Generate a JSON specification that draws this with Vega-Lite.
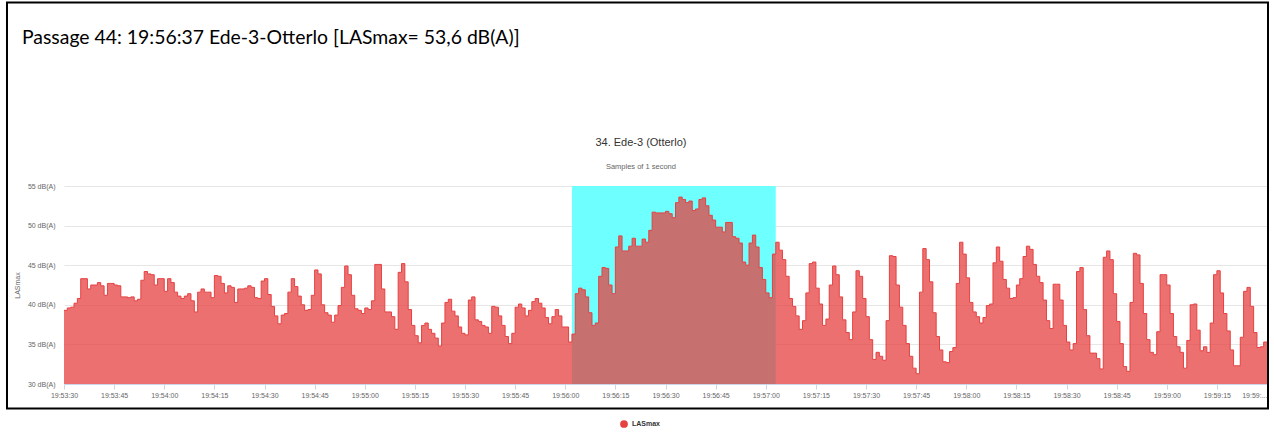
{
  "$schema": "https://vega.github.io/schema/vega-lite/v6.json",
  "width": 1203,
  "height": 198,
  "autosize": {"type": "none"},
  "padding": {"left": 64, "top": 186, "right": 7, "bottom": 50},
  "background": "white",
  "config": {
    "view": {"stroke": null},
    "font": "Liberation Sans",
    "axisY": {"tickCount": 6, "labelOverlap": false}
  },
  "data": {"values": [
    {"s":0,"v":39.3},{"s":1,"v":39.6},{"s":2,"v":39.7},{"s":3,"v":40.2},{"s":4,"v":40.8},{"s":5,"v":43.3},{"s":6,"v":43.3},{"s":7,"v":42.0},{"s":8,"v":42.5},{"s":9,"v":42.5},
    {"s":10,"v":42.8},{"s":11,"v":42.4},{"s":12,"v":41.2},{"s":13,"v":42.7},{"s":14,"v":42.7},{"s":15,"v":42.5},{"s":16,"v":42.4},{"s":17,"v":41.0},{"s":18,"v":41.0},{"s":19,"v":40.9},
    {"s":20,"v":41.0},{"s":21,"v":40.5},{"s":22,"v":40.7},{"s":23,"v":43.1},{"s":24,"v":44.2},{"s":25,"v":43.9},{"s":26,"v":43.8},{"s":27,"v":42.5},{"s":28,"v":43.3},{"s":29,"v":43.3},
    {"s":30,"v":41.7},{"s":31,"v":43.3},{"s":32,"v":42.8},{"s":33,"v":41.6},{"s":34,"v":41.1},{"s":35,"v":40.8},{"s":36,"v":41.1},{"s":37,"v":41.4},{"s":38,"v":40.5},{"s":39,"v":39.1},
    {"s":40,"v":41.6},{"s":41,"v":42.0},{"s":42,"v":41.6},{"s":43,"v":41.6},{"s":44,"v":40.9},{"s":45,"v":43.7},{"s":46,"v":43.6},{"s":47,"v":42.7},{"s":48,"v":41.5},{"s":49,"v":42.4},
    {"s":50,"v":42.2},{"s":51,"v":40.3},{"s":52,"v":42.0},{"s":53,"v":42.0},{"s":54,"v":42.1},{"s":55,"v":42.4},{"s":56,"v":42.2},{"s":57,"v":40.9},{"s":58,"v":40.8},{"s":59,"v":43.0},
    {"s":60,"v":43.3},{"s":61,"v":41.3},{"s":62,"v":39.8},{"s":63,"v":38.6},{"s":64,"v":37.6},{"s":65,"v":38.7},{"s":66,"v":38.9},{"s":67,"v":41.6},{"s":68,"v":43.3},{"s":69,"v":42.3},
    {"s":70,"v":41.1},{"s":71,"v":40.0},{"s":72,"v":39.3},{"s":73,"v":39.4},{"s":74,"v":41.2},{"s":75,"v":44.4},{"s":76,"v":43.9},{"s":77,"v":40.0},{"s":78,"v":39.0},{"s":79,"v":38.7},
    {"s":80,"v":37.8},{"s":81,"v":38.7},{"s":82,"v":39.9},{"s":83,"v":42.2},{"s":84,"v":44.9},{"s":85,"v":43.8},{"s":86,"v":41.2},{"s":87,"v":39.5},{"s":88,"v":39.3},{"s":89,"v":38.9},
    {"s":90,"v":39.6},{"s":91,"v":39.4},{"s":92,"v":40.5},{"s":93,"v":45.1},{"s":94,"v":45.1},{"s":95,"v":42.0},{"s":96,"v":39.1},{"s":97,"v":39.1},{"s":98,"v":38.5},{"s":99,"v":36.9},
    {"s":100,"v":44.1},{"s":101,"v":45.2},{"s":102,"v":42.9},{"s":103,"v":39.4},{"s":104,"v":37.4},{"s":105,"v":36.1},{"s":106,"v":35.2},{"s":107,"v":37.4},{"s":108,"v":37.7},{"s":109,"v":36.9},
    {"s":110,"v":36.4},{"s":111,"v":35.8},{"s":112,"v":34.8},{"s":113,"v":37.7},{"s":114,"v":40.3},{"s":115,"v":40.7},{"s":116,"v":39.2},{"s":117,"v":38.6},{"s":118,"v":37.2},{"s":119,"v":36.4},
    {"s":120,"v":36.2},{"s":121,"v":40.6},{"s":122,"v":41.0},{"s":123,"v":38.1},{"s":124,"v":37.9},{"s":125,"v":37.4},{"s":126,"v":37.2},{"s":127,"v":36.4},{"s":128,"v":39.8},{"s":129,"v":39.7},
    {"s":130,"v":38.6},{"s":131,"v":37.4},{"s":132,"v":36.0},{"s":133,"v":35.1},{"s":134,"v":36.4},{"s":135,"v":39.7},{"s":136,"v":40.1},{"s":137,"v":39.6},{"s":138,"v":38.6},{"s":139,"v":39.3},
    {"s":140,"v":40.4},{"s":141,"v":40.8},{"s":142,"v":40.2},{"s":143,"v":39.6},{"s":144,"v":38.4},{"s":145,"v":37.6},{"s":146,"v":38.5},{"s":147,"v":39.4},{"s":148,"v":38.6},{"s":149,"v":37.2},
    {"s":150,"v":37.2},{"s":151,"v":35.3},{"s":152,"v":36.3},{"s":153,"v":41.4},{"s":154,"v":42.1},{"s":155,"v":41.9},{"s":156,"v":41.0},{"s":157,"v":39.0},{"s":158,"v":37.4},{"s":159,"v":37.7},
    {"s":160,"v":43.6},{"s":161,"v":44.7},{"s":162,"v":44.6},{"s":163,"v":42.5},{"s":164,"v":41.4},{"s":165,"v":47.3},{"s":166,"v":48.7},{"s":167,"v":46.8},{"s":168,"v":46.8},{"s":169,"v":47.4},
    {"s":170,"v":48.4},{"s":171,"v":47.4},{"s":172,"v":47.4},{"s":173,"v":48.3},{"s":174,"v":47.9},{"s":175,"v":49.4},{"s":176,"v":51.7},{"s":177,"v":51.6},{"s":178,"v":51.6},{"s":179,"v":51.6},
    {"s":180,"v":51.8},{"s":181,"v":51.5},{"s":182,"v":51.0},{"s":183,"v":52.9},{"s":184,"v":53.6},{"s":185,"v":53.3},{"s":186,"v":52.9},{"s":187,"v":53.1},{"s":188,"v":51.9},{"s":189,"v":52.1},
    {"s":190,"v":53.3},{"s":191,"v":53.5},{"s":192,"v":52.5},{"s":193,"v":51.3},{"s":194,"v":50.7},{"s":195,"v":49.8},{"s":196,"v":49.8},{"s":197,"v":49.2},{"s":198,"v":50.4},{"s":199,"v":50.4},
    {"s":200,"v":48.6},{"s":201,"v":48.4},{"s":202,"v":47.8},{"s":203,"v":45.4},{"s":204,"v":45.0},{"s":205,"v":47.8},{"s":206,"v":48.8},{"s":207,"v":47.3},{"s":208,"v":44.7},{"s":209,"v":43.2},
    {"s":210,"v":41.5},{"s":211,"v":40.9},{"s":212,"v":46.4},{"s":213,"v":47.9},{"s":214,"v":46.9},{"s":215,"v":45.7},{"s":216,"v":43.6},{"s":217,"v":40.8},{"s":218,"v":39.8},{"s":219,"v":38.6},
    {"s":220,"v":36.9},{"s":221,"v":38.0},{"s":222,"v":41.5},{"s":223,"v":45.2},{"s":224,"v":45.4},{"s":225,"v":42.1},{"s":226,"v":40.1},{"s":227,"v":37.4},{"s":228,"v":38.2},{"s":229,"v":42.5},
    {"s":230,"v":44.9},{"s":231,"v":43.8},{"s":232,"v":41.0},{"s":233,"v":38.1},{"s":234,"v":36.5},{"s":235,"v":35.6},{"s":236,"v":39.1},{"s":237,"v":44.3},{"s":238,"v":43.6},{"s":239,"v":40.8},
    {"s":240,"v":38.5},{"s":241,"v":35.6},{"s":242,"v":33.1},{"s":243,"v":34.0},{"s":244,"v":33.5},{"s":245,"v":33.0},{"s":246,"v":38.0},{"s":247,"v":46.2},{"s":248,"v":46.1},{"s":249,"v":42.5},
    {"s":250,"v":39.7},{"s":251,"v":37.4},{"s":252,"v":35.1},{"s":253,"v":33.5},{"s":254,"v":32.0},{"s":255,"v":31.3},{"s":256,"v":41.6},{"s":257,"v":47.1},{"s":258,"v":45.7},{"s":259,"v":42.9},
    {"s":260,"v":39.0},{"s":261,"v":36.0},{"s":262,"v":34.3},{"s":263,"v":32.8},{"s":264,"v":32.7},{"s":265,"v":34.1},{"s":266,"v":34.6},{"s":267,"v":42.7},{"s":268,"v":47.9},{"s":269,"v":46.4},
    {"s":270,"v":43.4},{"s":271,"v":40.3},{"s":272,"v":39.1},{"s":273,"v":38.5},{"s":274,"v":37.7},{"s":275,"v":38.4},{"s":276,"v":39.9},{"s":277,"v":40.1},{"s":278,"v":45.3},{"s":279,"v":47.3},
    {"s":280,"v":45.5},{"s":281,"v":43.2},{"s":282,"v":42.1},{"s":283,"v":40.8},{"s":284,"v":40.9},{"s":285,"v":42.5},{"s":286,"v":43.3},{"s":287,"v":46.1},{"s":288,"v":47.4},{"s":289,"v":47.0},
    {"s":290,"v":45.1},{"s":291,"v":43.6},{"s":292,"v":42.8},{"s":293,"v":40.6},{"s":294,"v":38.0},{"s":295,"v":37.0},{"s":296,"v":42.6},{"s":297,"v":42.6},{"s":298,"v":40.6},{"s":299,"v":37.4},
    {"s":300,"v":35.3},{"s":301,"v":34.3},{"s":302,"v":35.1},{"s":303,"v":44.2},{"s":304,"v":44.7},{"s":305,"v":39.4},{"s":306,"v":36.1},{"s":307,"v":33.9},{"s":308,"v":33.9},{"s":309,"v":33.2},
    {"s":310,"v":31.9},{"s":311,"v":46.0},{"s":312,"v":46.8},{"s":313,"v":45.7},{"s":314,"v":41.4},{"s":315,"v":37.9},{"s":316,"v":35.1},{"s":317,"v":32.2},{"s":318,"v":31.6},{"s":319,"v":40.3},
    {"s":320,"v":46.5},{"s":321,"v":46.3},{"s":322,"v":42.7},{"s":323,"v":38.9},{"s":324,"v":35.6},{"s":325,"v":34.0},{"s":326,"v":33.7},{"s":327,"v":36.6},{"s":328,"v":43.8},{"s":329,"v":43.8},
    {"s":330,"v":42.5},{"s":331,"v":38.9},{"s":332,"v":36.0},{"s":333,"v":34.7},{"s":334,"v":34.0},{"s":335,"v":32.0},{"s":336,"v":35.5},{"s":337,"v":40.0},{"s":338,"v":40.1},{"s":339,"v":36.8},
    {"s":340,"v":34.2},{"s":341,"v":34.7},{"s":342,"v":34.0},{"s":343,"v":37.7},{"s":344,"v":43.8},{"s":345,"v":44.3},{"s":346,"v":41.5},{"s":347,"v":38.9},{"s":348,"v":36.7},{"s":349,"v":34.3},
    {"s":350,"v":32.3},{"s":351,"v":32.3},{"s":352,"v":35.9},{"s":353,"v":41.7},{"s":354,"v":42.2},{"s":355,"v":39.8},{"s":356,"v":36.5},{"s":357,"v":34.6},{"s":358,"v":34.7},{"s":359,"v":35.3},
    {"s":360,"v":35.3}
  ]},
  "layer": [
    {
      "data": {"values": [{"left": -17.06, "right": 360.3, "top": 78.17, "bottom": 26.91}]},
      "mark": {"type": "rect", "fillOpacity": 0, "stroke": "#000000", "strokeWidth": 2},
      "encoding": {
        "x": {"field": "left", "type": "quantitative"},
        "x2": {"field": "right"},
        "y": {"field": "top", "type": "quantitative", "axis": {"values": [30, 35, 40, 45, 50, 55]}},
        "y2": {"field": "bottom"}
      }
    },
    {
      "data": {"values": [{"start": 152, "end": 213}]},
      "mark": {"type": "rect", "fill": "#66ffff", "opacity": 0.95},
      "encoding": {
        "x": {"field": "start", "type": "quantitative"},
        "x2": {"field": "end"},
        "y": {"datum": 55, "type": "quantitative", "axis": {"values": [30, 35, 40, 45, 50, 55]}},
        "y2": {"datum": 30}
      }
    },
    {
      "mark": {"type": "area", "interpolate": "step-after", "fillOpacity": 0.75, "line": {"strokeWidth": 1}},
      "encoding": {
        "x": {
          "field": "s", "type": "quantitative",
          "scale": {"domain": [0, 360], "nice": false, "zero": false},
          "axis": {
            "title": null,
            "values": [0,15,30,45,60,75,90,105,120,135,150,165,180,195,210,225,240,255,270,285,300,315,330,345,360],
            "labelExpr": "datum.value == 360 ? '19:59:...' : timeFormat(datetime(2000, 0, 1, 19, 53, 30 + datum.value), '%H:%M:%S')",
            "labelAlign": {"condition": {"test": "datum.value == 360", "value": "right"}, "value": "center"},
            "grid": false,
            "domainColor": "#ccd6eb",
            "tickColor": "#ccd6eb",
            "tickSize": 5,
            "labelFontSize": 7,
            "labelColor": "#666666",
            "labelPadding": 2,
            "labelFlush": false,
            "labelOverlap": false
          }
        },
        "y": {
          "field": "v", "type": "quantitative",
          "scale": {"domain": [30, 55], "nice": false, "zero": false},
          "axis": {
            "title": "LASmax",
            "values": [30, 35, 40, 45, 50, 55],
            "tickCount": 6,
            "labelExpr": "datum.value + ' dB(A)'",
            "labelOverlap": false,
            "domain": false,
            "ticks": false,
            "gridColor": "#e6e6e6",
            "labelPadding": 9,
            "labelFontSize": 7,
            "labelColor": "#666666",
            "titleFontSize": 7,
            "titleFontWeight": "normal",
            "titleColor": "#666666",
            "titlePadding": 7
          }
        },
        "y2": {"datum": 30},
        "color": {
          "datum": "LASmax",
          "type": "nominal",
          "scale": {"range": ["#e64040"]},
          "legend": {
            "title": null,
            "orient": "none",
            "legendX": 556,
            "legendY": 234,
            "symbolType": "circle",
            "symbolSize": 60,
            "symbolOpacity": 1,
            "symbolStrokeWidth": 0,
            "labelFontSize": 7,
            "labelFontWeight": "bold",
            "labelColor": "#333333",
            "labelOffset": 4
          }
        }
      }
    },
    {
      "data": {"values": [{"label": "Passage 44: 19:56:37 Ede-3-Otterlo [LASmax= 53,6 dB(A)]"}]},
      "mark": {"type": "text", "font": "Lato", "fontSize": 19.4, "align": "left", "baseline": "alphabetic", "color": "#000000"},
      "encoding": {
        "text": {"field": "label"},
        "x": {"datum": -12.57, "type": "quantitative"},
        "y": {"datum": 72.87, "type": "quantitative"}
      }
    },
    {
      "data": {"values": [{"label": "34. Ede-3 (Otterlo)"}]},
      "mark": {"type": "text", "fontSize": 11, "align": "center", "baseline": "alphabetic", "color": "#333333"},
      "encoding": {
        "text": {"field": "label"},
        "x": {"datum": 172.65, "type": "quantitative"},
        "y": {"datum": 60.0, "type": "quantitative"}
      }
    },
    {
      "data": {"values": [{"label": "Samples of 1 second"}]},
      "mark": {"type": "text", "fontSize": 7.5, "align": "center", "baseline": "alphabetic", "color": "#666666"},
      "encoding": {
        "text": {"field": "label"},
        "x": {"datum": 172.65, "type": "quantitative"},
        "y": {"datum": 57.15, "type": "quantitative"}
      }
    }
  ]
}
